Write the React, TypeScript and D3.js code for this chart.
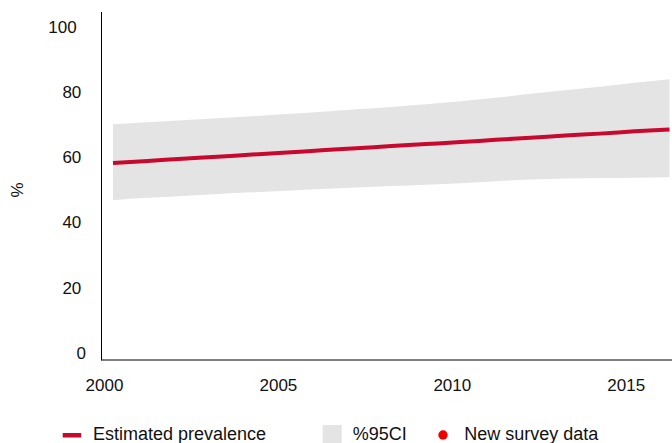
import React from "react";
import * as d3 from "d3";

// Estimated prevalence (%) with 95% confidence interval, by year
const years = [2000, 2001, 2002, 2003, 2004, 2005, 2006, 2007, 2008, 2009, 2010, 2011, 2012, 2013, 2014, 2015, 2016];
const estimate = [58.2, 58.8, 59.5, 60.1, 60.8, 61.4, 62.1, 62.7, 63.4, 64.0, 64.6, 65.3, 65.9, 66.6, 67.2, 67.9, 68.5];
const upper95 = [70.1, 70.7, 71.3, 71.9, 72.5, 73.2, 73.9, 74.7, 75.4, 76.2, 77.1, 78.2, 79.4, 80.5, 81.6, 82.8, 83.9];
const lower95 = [46.8, 47.5, 48.1, 48.7, 49.2, 49.7, 50.2, 50.7, 51.1, 51.5, 52.0, 52.6, 53.1, 53.4, 53.6, 53.7, 53.8];

const xTicks = [2000, 2005, 2010, 2015];
const yTicks = [0, 20, 40, 60, 80, 100];

const W = 672;
const H = 443;
const FONT = "'Liberation Sans', Arial, Helvetica, sans-serif";
const LINE_COLOR = "#c8082f";
const BAND_COLOR = "#e4e4e4";
const DOT_COLOR = "#f20000";

export default function App() {
  const x = d3.scaleLinear().domain([2000, 2016]).range([113, 669.5]);
  const y = d3.scaleLinear().domain([0, 100]).range([352.7, 26.7]);

  const rows = years.map((yr, i) => ({ yr, est: estimate[i], lo: lower95[i], hi: upper95[i] }));

  const band = d3
    .area<(typeof rows)[number]>()
    .x((d) => x(d.yr))
    .y0((d) => y(d.lo))
    .y1((d) => y(d.hi))
    .curve(d3.curveMonotoneX)(rows) as string;

  const line = d3
    .line<(typeof rows)[number]>()
    .x((d) => x(d.yr))
    .y((d) => y(d.est))
    .curve(d3.curveMonotoneX)(rows) as string;

  const plotLeft = 101.5;
  const plotBottom = 360;
  const plotTop = 12;

  return (
    <svg
      width={W}
      height={H}
      viewBox={`0 0 ${W} ${H}`}
      style={{ position: "fixed", left: 0, top: 0, display: "block", background: "#fff" }}
      fontFamily={FONT}
    >
      <defs>
        <clipPath id="plot-clip">
          <rect x={plotLeft} y={0} width={W - plotLeft} height={plotBottom} />
        </clipPath>
      </defs>

      <g clipPath="url(#plot-clip)">
        <path d={band} fill={BAND_COLOR} />
        <path d={line} fill="none" stroke={LINE_COLOR} strokeWidth={4} />
      </g>

      {/* axes */}
      <line x1={plotLeft} x2={plotLeft} y1={plotTop} y2={plotBottom + 0.5} stroke="#000" strokeWidth={1} />
      <line x1={plotLeft} x2={W} y1={plotBottom} y2={plotBottom} stroke="#000" strokeWidth={1} />

      {/* y tick labels */}
      {yTicks.map((t) => {
        const label = String(t);
        return (
          <text
            key={t}
            x={90.5 - label.length * 4.6}
            y={y(t)}
            dy="0.36em"
            textAnchor="end"
            fontSize={17}
            fill="#111"
          >
            {label}
          </text>
        );
      })}

      {/* x tick labels */}
      {xTicks.map((t) => (
        <text key={t} x={x(t) - 8.5} y={391} textAnchor="middle" fontSize={17} fill="#111">
          {t}
        </text>
      ))}

      {/* y axis title */}
      <text
        transform={`translate(23, 190) rotate(-90)`}
        textAnchor="middle"
        fontSize={17}
        fill="#111"
      >
        %
      </text>

      {/* legend */}
      <rect x={62.7} y={433} width={18.5} height={4.5} fill={LINE_COLOR} />
      <text x={93} y={440.2} fontSize={18} fill="#111">
        Estimated prevalence
      </text>
      <rect x={322.7} y={425} width={19} height={19} fill={BAND_COLOR} />
      <text x={352.7} y={440.2} fontSize={18} fill="#111">
        %95CI
      </text>
      <circle cx={443} cy={435} r={4.7} fill={DOT_COLOR} />
      <text x={464.3} y={440.2} fontSize={18} fill="#111">
        New survey data
      </text>
    </svg>
  );
}
